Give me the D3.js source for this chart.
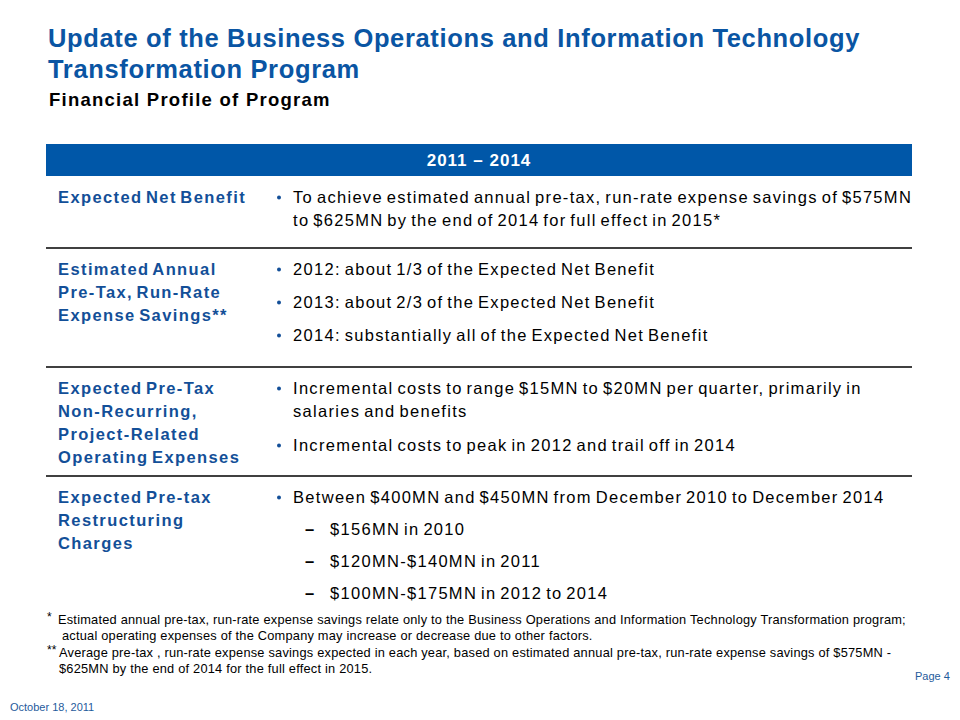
<!DOCTYPE html>
<html><head><meta charset="utf-8">
<script src="https://cdn.jsdelivr.net/npm/d3@7"></script>
<style>body{margin:0;background:#fff}svg{display:block}text{font-family:"Liberation Sans",Arial,sans-serif}</style>
</head><body>
<script>
const titleLines = ["Update of the Business Operations and Information Technology", "Transformation Program"];
const subtitle = "Financial Profile of Program";
const headerLabel = "2011 – 2014";
const rowLabels = [
  ["Expected Net Benefit"],
  ["Estimated Annual", "Pre-Tax, Run-Rate", "Expense Savings**"],
  ["Expected Pre-Tax", "Non-Recurring,", "Project-Related", "Operating Expenses"],
  ["Expected Pre-tax", "Restructuring", "Charges"]
];
// each item: [level, lines...]; level 1 = bullet, 2 = dash
const rowItems = [
  [[1, "To achieve estimated annual pre-tax, run-rate expense savings of $575MN", "to $625MN by the end of 2014 for full effect in 2015*"]],
  [[1, "2012: about 1/3 of the Expected Net Benefit"], [1, "2013: about 2/3 of the Expected Net Benefit"], [1, "2014: substantially all of the Expected Net Benefit"]],
  [[1, "Incremental costs to range $15MN to $20MN per quarter, primarily in", "salaries and benefits"], [1, "Incremental costs to peak in 2012 and trail off in 2014"]],
  [[1, "Between $400MN and $450MN from December 2010 to December 2014"], [2, "$156MN in 2010"], [2, "$120MN-$140MN in 2011"], [2, "$100MN-$175MN in 2012 to 2014"]]
];
const footnotes = [
  ["*", "Estimated annual pre-tax, run-rate expense savings relate only to the Business Operations and Information Technology Transformation program;", "actual operating expenses of the Company may increase or decrease due to other factors."],
  ["**", "Average pre-tax , run-rate expense savings expected in each year, based on estimated annual pre-tax, run-rate expense savings of $575MN -", "$625MN by the end of 2014 for the full effect in 2015."]
];
const dateLabel = "October 18, 2011";
const pageLabel = "Page 4";

const W = 960, H = 720;
const blue = "#0a55a3", labelBlue = "#134f98", barBlue = "#0057a8";
const svg = d3.select("body").append("svg").attr("width", W).attr("height", H);

// titles
svg.selectAll("text.title").data(titleLines).join("text").attr("class","title")
  .attr("x", 48).attr("y", (d,i)=>47+i*31).attr("fill", blue)
  .attr("font-size", 25.5).attr("letter-spacing", 0.65).attr("font-weight","bold").text(d=>d);
svg.append("text").attr("x",49).attr("y",106).attr("font-size",18.5).attr("letter-spacing",1.25).attr("font-weight","bold")
  .attr("fill","#000").text(subtitle);

// table
const x = d3.scaleLinear().domain([0,1]).range([46, 912]);
svg.append("rect").attr("x", x(0)).attr("y",144).attr("width", x(1)-x(0)).attr("height",32).attr("fill", barBlue);
svg.append("text").attr("x", (x(0)+x(1))/2).attr("y",166).attr("text-anchor","middle")
  .attr("fill","#fff").attr("font-size",17).attr("letter-spacing",1).attr("font-weight","bold").text(headerLabel);

const rowTops = [176, 248, 367, 476];
const rowY = d3.scaleOrdinal().domain(d3.range(rowLabels.length)).range(rowTops);
const lineH = 23;
const labelX = 58, bulletX = 279, textX = 293, dashX = 305, dashTextX = 330;
const itemGap = [0, 10, 11, 9];

rowLabels.forEach((lines, r) => {
  const top = rowY(r);
  const g = svg.append("g");
  if (r > 0) g.append("line").attr("x1", x(0)).attr("x2", x(1)).attr("y1", top).attr("y2", top)
    .attr("stroke","#000").attr("stroke-width",1.3);
  g.selectAll("text.lab").data(lines).join("text").attr("class","lab")
    .attr("x", labelX).attr("y",(d,i)=>top+27+i*lineH).attr("fill", labelBlue)
    .attr("font-size",16.5).attr("letter-spacing",1.4).attr("word-spacing",-2.5).attr("font-weight","bold").text(d=>d);
  let y = top + 27;
  rowItems[r].forEach((item, k) => {
    const level = item[0];
    if (level === 1) {
      g.append("circle").attr("cx", bulletX).attr("cy", y-5.5).attr("r", 2).attr("fill", labelBlue);
    } else {
      g.append("text").attr("x", dashX).attr("y", y).attr("font-size",16.5).attr("font-weight","bold").attr("fill","#000").text("–");
    }
    const tx = level === 1 ? textX : dashTextX;
    item.slice(1).forEach((t, j) => {
      g.append("text").attr("x", tx).attr("y", y + j*lineH).attr("font-size",16.5)
        .attr("letter-spacing",1.3).attr("word-spacing",-2).attr("fill","#000").text(t);
    });
    y += (item.length-1)*lineH + itemGap[r];
  });
});

// footnotes
let fy = 624;
footnotes.forEach(f => {
  svg.append("text").attr("x", 47).attr("y", fy-3).attr("font-size",12).text(f[0]);
  f.slice(1).forEach((t,j)=>{
    svg.append("text").attr("x", f[0].length>1 ? 59 : 58 + (j>0?4:0)).attr("y", fy + j*16)
      .attr("font-size",12.8).attr("letter-spacing",0.22).attr("fill","#000").text(t);
  });
  fy += 33;
});
svg.append("text").attr("x",10).attr("y",711).attr("font-size",11).attr("fill","#1f5b9c").text(dateLabel);
svg.append("text").attr("x",915).attr("y",680).attr("font-size",11).attr("fill","#1f5b9c").text(pageLabel);
</script>
</body></html>
